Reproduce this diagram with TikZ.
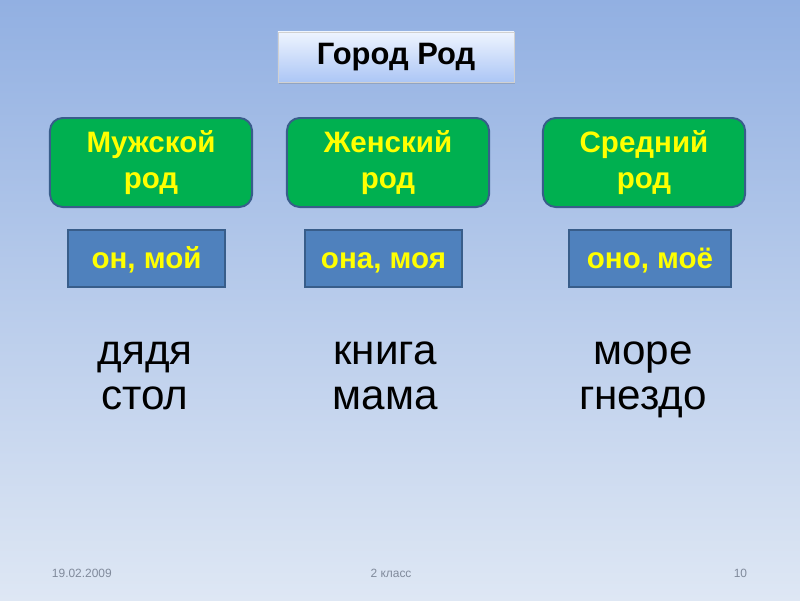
\documentclass[tikz,border=0pt]{standalone}
\usepackage{fontspec}
\setmainfont{Liberation Sans}
\usetikzlibrary{positioning, shadows}

\definecolor{bgtop}{RGB}{146,176,226}
\definecolor{bgmid}{RGB}{188,206,236}
\definecolor{bgbot}{RGB}{222,231,244}
\definecolor{rodgreen}{RGB}{0,176,80}
\definecolor{rodedge}{RGB}{56,93,138}
\definecolor{pronblue}{RGB}{79,129,189}
\definecolor{rodyellow}{RGB}{255,255,0}
\definecolor{titletop}{RGB}{238,244,255}
\definecolor{titlebot}{RGB}{172,198,245}
\definecolor{footgray}{RGB}{128,138,155}

\tikzset{
  titlebox/.style={draw=black!18, line width=0.6pt, top color=titletop, bottom color=titlebot,
    minimum width=5.9cm, minimum height=1.25cm, inner sep=0pt,
    font=\bfseries\fontsize{22}{26}\selectfont,
    drop shadow={opacity=0.35, shadow xshift=0.8pt, shadow yshift=-1.2pt}},
  genbox/.style={draw=rodedge, line width=1.4pt, fill=rodgreen, rounded corners=9pt,
    minimum width=5.05cm, minimum height=2.225cm, align=center, text=rodyellow,
    font=\bfseries\fontsize{21}{26}\selectfont},
  pronbox/.style={draw=rodedge, line width=1pt, fill=pronblue, text=rodyellow,
    minimum width=3.925cm, minimum height=1.425cm, inner sep=0pt,
    text height=15pt, text depth=1.5pt,
    font=\bfseries\fontsize{21}{25}\selectfont},
  word/.style={anchor=base, font=\fontsize{30}{34}\selectfont},
  foot/.style={anchor=base, text=footgray, font=\fontsize{8.5}{10}\selectfont}
}

\begin{document}
\begin{tikzpicture}[x=0.025cm, y=-0.025cm]
  \useasboundingbox (0,0) rectangle (800,600);
  % background
  \shade[top color=bgtop, middle color=bgmid, bottom color=bgbot] (0,0) rectangle (800,600);

  % title
  \node[titlebox] (title) at (396,57) {Город Род};

  % genders
  \node[genbox] (masc) at (151,162.5) {Мужской\\род};
  \node[genbox] (fem)  at (388,162.5) {Женский\\род};
  \node[genbox] (neut) at (644,162.5) {Средний\\род};

  % pronouns
  \node[pronbox] (pmasc) at (146.5,258.5) {он, мой};
  \node[pronbox] (pfem)  at (383.5,258.5) {она, моя};
  \node[pronbox, minimum width=4.05cm] (pneut) at (650,258.5) {оно, моё};

  % examples
  \node[word] (w1a) at (145,364) {дядя};
  \node[word] (w1b) at (145,409) {стол};
  \node[word] (w2a) at (385,364) {книга};
  \node[word] (w2b) at (385,409) {мама};
  \node[word] (w3a) at (643,364) {море};
  \node[word] (w3b) at (643,409) {гнездо};

  % footer
  \node[foot, anchor=base west] (date) at (47,577) {19.02.2009};
  \node[foot] (klass) at (391,577) {2 класс};
  \node[foot, anchor=base east] (page) at (752,577) {10};
\end{tikzpicture}
\end{document}
